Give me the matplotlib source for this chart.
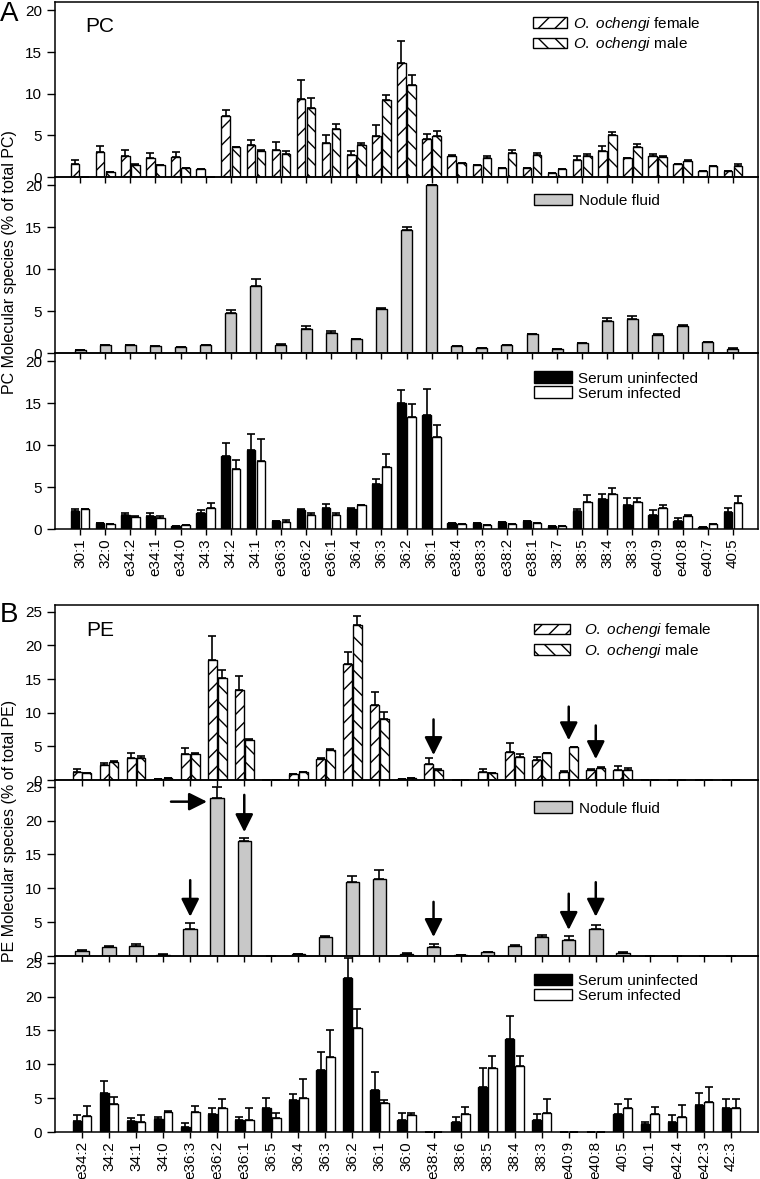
import numpy as np
import matplotlib
matplotlib.use("Agg")
import matplotlib.pyplot as plt

plt.rcParams['font.family'] = ['Liberation Sans', 'DejaVu Sans']
plt.rcParams['mathtext.fontset'] = 'custom'
plt.rcParams['mathtext.it'] = 'Liberation Sans:italic'
plt.rcParams['mathtext.rm'] = 'Liberation Sans'
plt.rcParams['hatch.linewidth'] = 1.0

# ---------------- Panel A (PC) ----------------
cats_A = ['30:1', '32:0', 'e34:2', 'e34:1', 'e34:0', '34:3', '34:2', '34:1', 'e36:3',
          'e36:2', 'e36:1', '36:4', '36:3', '36:2', '36:1', 'e38:4', 'e38:3', 'e38:2',
          'e38:1', '38:7', '38:5', '38:4', '38:3', 'e40:9', 'e40:8', 'e40:7', '40:5']

pc_female = [1.6, 3.0, 2.5, 2.3, 2.4, 1.0, 7.3, 3.9, 3.3, 9.4, 4.1, 2.7, 4.9, 13.65, 4.6,
             2.5, 1.4, 1.1, 1.1, 0.5, 2.0, 3.15, 2.3, 2.5, 1.6, 0.7, 0.75]
pc_female_err = [0.5, 0.7, 0.8, 0.6, 0.6, 0.0, 0.7, 0.6, 0.9, 2.2, 0.9, 0.4, 1.3, 2.65, 0.6,
                 0.1, 0.0, 0.0, 0.0, 0.0, 0.5, 0.55, 0.0, 0.3, 0.0, 0.0, 0.0]
pc_male = [0.0, 0.56, 1.5, 1.4, 1.1, 0.0, 3.6, 3.1, 2.8, 8.3, 5.8, 3.9, 9.3, 11.0, 4.95,
           1.7, 2.3, 2.9, 2.7, 1.0, 2.5, 5.1, 3.6, 2.4, 1.9, 1.3, 1.35]
pc_male_err = [0.0, 0.0, 0.1, 0.1, 0.0, 0.0, 0.05, 0.2, 0.3, 1.2, 0.6, 0.2, 0.6, 1.2, 0.55,
               0.0, 0.2, 0.4, 0.2, 0.0, 0.3, 0.3, 0.4, 0.1, 0.1, 0.0, 0.25]

pc_nodule = [0.4, 0.9, 0.9, 0.8, 0.7, 0.9, 4.8, 8.0, 1.0, 2.9, 2.4, 1.7, 5.2, 14.7, 20.0,
             0.8, 0.6, 1.0, 2.3, 0.5, 1.2, 3.8, 4.1, 2.1, 3.2, 1.3, 0.5]
pc_nodule_err = [0.0, 0.05, 0.05, 0.0, 0.0, 0.05, 0.3, 0.8, 0.1, 0.3, 0.2, 0.0, 0.2, 0.3, 0.1,
                 0.0, 0.0, 0.0, 0.0, 0.0, 0.0, 0.4, 0.3, 0.2, 0.2, 0.0, 0.1]

pc_uninf = [2.15, 0.7, 1.7, 1.55, 0.35, 1.9, 8.7, 9.4, 0.95, 2.25, 2.5, 2.35, 5.4, 15.0, 13.6,
            0.72, 0.7, 0.8, 0.95, 0.3, 2.1, 3.6, 2.85, 1.65, 0.9, 0.25, 2.05]
pc_uninf_err = [0.25, 0.0, 0.15, 0.35, 0.0, 0.4, 1.6, 1.9, 0.0, 0.1, 0.45, 0.2, 0.6, 1.6, 3.1,
                0.0, 0.0, 0.0, 0.0, 0.0, 0.3, 0.55, 0.85, 0.6, 0.4, 0.0, 0.5]
pc_inf = [2.35, 0.55, 1.45, 1.35, 0.5, 2.55, 7.1, 8.1, 0.85, 1.65, 1.7, 2.85, 7.4, 13.4, 11.0,
          0.56, 0.45, 0.6, 0.72, 0.3, 3.2, 4.2, 3.2, 2.45, 1.55, 0.65, 3.05]
pc_inf_err = [0.05, 0.0, 0.05, 0.15, 0.0, 0.55, 1.1, 2.6, 0.2, 0.25, 0.25, 0.0, 1.55, 1.5, 1.4,
              0.0, 0.0, 0.0, 0.0, 0.0, 0.8, 0.75, 0.5, 0.4, 0.15, 0.0, 0.9]

# ---------------- Panel B (PE) ----------------
cats_B = ['e34:2', '34:2', '34:1', '34:0', 'e36:3', 'e36:2', 'e36:1', '36:5', '36:4', '36:3',
          '36:2', '36:1', '36:0', 'e38:4', '38:6', '38:5', '38:4', '38:3', 'e40:9', 'e40:8',
          '40:5', '40:1', 'e42:4', 'e42:3', '42:3']

pe_female = [1.2, 2.2, 3.2, 0.15, 3.85, 17.9, 13.3, 0.0, 0.9, 3.05, 17.2, 11.1, 0.1, 2.45, 0.0,
             1.25, 4.2, 2.95, 1.25, 1.5, 1.5, 0.0, 0.0, 0.0, 0.0]
pe_female_err = [0.5, 0.35, 0.8, 0.0, 0.95, 3.5, 2.1, 0.0, 0.0, 0.25, 1.8, 2.0, 0.0, 0.75, 0.0,
                 0.45, 1.3, 0.5, 0.15, 0.2, 0.55, 0.0, 0.0, 0.0, 0.0]
pe_male = [1.0, 2.7, 3.2, 0.25, 3.85, 15.2, 5.9, 0.0, 1.2, 4.45, 23.0, 9.0, 0.25, 1.5, 0.0,
           1.0, 3.45, 3.95, 4.9, 1.85, 1.5, 0.0, 0.0, 0.0, 0.0]
pe_male_err = [0.05, 0.1, 0.4, 0.0, 0.1, 1.2, 0.15, 0.0, 0.0, 0.15, 1.3, 1.1, 0.0, 0.1, 0.0,
               0.0, 0.35, 0.05, 0.05, 0.05, 0.3, 0.0, 0.0, 0.0, 0.0]

pe_nodule = [0.75, 1.4, 1.55, 0.2, 3.95, 23.4, 16.95, 0.0, 0.3, 2.85, 11.0, 11.35, 0.3, 1.4,
             0.15, 0.65, 1.55, 2.8, 2.35, 4.05, 0.5, 0.0, 0.0, 0.0, 0.0]
pe_nodule_err = [0.15, 0.05, 0.15, 0.05, 0.9, 1.6, 0.45, 0.0, 0.05, 0.1, 0.75, 1.3, 0.15, 0.4,
                 0.0, 0.0, 0.05, 0.3, 0.6, 0.6, 0.05, 0.0, 0.0, 0.0, 0.0]

pe_uninf = [1.6, 5.7, 1.6, 1.85, 0.7, 2.6, 1.7, 3.6, 4.7, 9.2, 22.75, 6.2, 1.75, 0.0, 1.45,
            6.7, 13.8, 1.7, 0.0, 0.0, 2.7, 1.2, 1.5, 3.95, 3.5]
pe_uninf_err = [0.9, 1.8, 0.4, 0.4, 0.65, 0.9, 0.5, 1.35, 0.9, 2.6, 2.95, 2.7, 1.1, 0.0, 0.75,
                2.75, 3.3, 1.0, 0.0, 0.0, 1.4, 0.3, 1.0, 1.75, 1.35]
pe_inf = [2.35, 4.2, 1.5, 2.95, 3.0, 3.5, 1.7, 2.1, 5.0, 11.05, 15.4, 4.3, 2.45, 0.0, 2.7,
          9.4, 9.8, 2.85, 0.0, 0.0, 3.6, 2.6, 2.25, 4.5, 3.5]
pe_inf_err = [1.5, 1.0, 1.0, 0.15, 0.85, 1.35, 1.8, 0.65, 2.8, 4.05, 2.7, 0.5, 0.4, 0.0, 1.05,
              1.9, 1.4, 2.0, 0.0, 0.0, 1.25, 1.1, 1.75, 2.2, 1.35]

# arrows: (category, tail value, tip value)
arrows_B_top = [('e38:4', 9.0, 3.7), ('e40:9', 10.9, 5.9), ('e40:8', 8.1, 3.1)]
arrows_B_mid = [('e36:3', 11.2, 5.8), ('e36:1', 23.8, 18.3), ('e38:4', 8.0, 2.8),
                ('e40:9', 9.2, 3.85), ('e40:8', 10.9, 5.8)]
# horizontal arrow pointing at e36:2 (tail offset, tip offset in category units, height)
arrow_B_horiz = ('e36:2', -1.71, -0.38, 22.8)

# ---------------- Figure ----------------
W, H = 760, 1179
fig = plt.figure(figsize=(W / 100, H / 100), dpi=100)
fig.patch.set_facecolor('white')

FS = 11
LEFT, RIGHT = 55, 758


def add_ax(top_px, bot_px):
    ax = fig.add_axes([LEFT / W, 1 - bot_px / H, (RIGHT - LEFT) / W, (bot_px - top_px) / H])
    ax.set_facecolor('none')
    for s in ax.spines.values():
        s.set_linewidth(1.1)
    ax.tick_params(axis='both', direction='out', width=1.0, labelsize=FS)
    ax.tick_params(axis='y', length=5.5, pad=4)
    ax.tick_params(axis='x', length=4.5, pad=2)
    return ax


def style_x(ax, cats, labels):
    ax.set_xticks(np.arange(len(cats)))
    if labels:
        ax.set_xticklabels(cats, rotation=90, fontsize=FS)
    else:
        ax.set_xticklabels([])
    ax.set_xlim(-1, len(cats))


err_kw = dict(elinewidth=1.2, capthick=1.2, ecolor='black')


def pair(ax, cats, v1, e1, v2, e2, kw1, kw2, off, width, labels):
    x = np.arange(len(cats))
    b1 = ax.bar(x - off, v1, width, yerr=[np.zeros(len(v1)), e1], capsize=2.9,
                error_kw=err_kw, edgecolor='black', linewidth=1.0, **kw1)
    b2 = ax.bar(x + off, v2, width, yerr=[np.zeros(len(v2)), e2], capsize=2.9,
                error_kw=err_kw, edgecolor='black', linewidth=1.0, **kw2)
    return b1, b2


def single(ax, cats, v, e, width, color):
    x = np.arange(len(cats))
    return ax.bar(x, v, width, yerr=[np.zeros(len(v)), e], capsize=3.3,
                  error_kw=err_kw, color=color, edgecolor='black', linewidth=1.0)


def legend(ax, handles, labels, anchor, hl, hh, htp, ls):
    ax.legend(handles, labels, loc='upper left', bbox_to_anchor=anchor, frameon=False,
              borderpad=0, borderaxespad=0, handlelength=hl, handleheight=hh,
              handletextpad=htp, labelspacing=ls, fontsize=FS)


lab_f = r'$\mathit{O.\ ochengi}$ female'
lab_m = r'$\mathit{O.\ ochengi}$ male'
hatch_f = dict(color='white', hatch='//')
hatch_m = dict(color='white', hatch='\\\\')

# ---- Panel A ----
axA1 = add_ax(2, 177)
axA2 = add_ax(177, 353)
axA3 = add_ax(353, 529)
for ax in (axA1, axA2, axA3):
    ax.set_ylim(0, 21)
    ax.set_yticks([0, 5, 10, 15, 20])
style_x(axA1, cats_A, False)
style_x(axA2, cats_A, False)
style_x(axA3, cats_A, True)

bf, bm = pair(axA1, cats_A, pc_female, pc_female_err, pc_male, pc_male_err,
              hatch_f, hatch_m, 0.2, 0.34, False)
legend(axA1, [bf, bm], [lab_f, lab_m], (0.680, 0.925), 2.2, 0.7, 0.4, 0.15)

bn = single(axA2, cats_A, pc_nodule, pc_nodule_err, 0.44, '#c8c8c8')
legend(axA2, [bn], ['Nodule fluid'], (0.681, 0.906), 2.5, 0.8, 0.45, 0.1)

bu, bi = pair(axA3, cats_A, pc_uninf, pc_uninf_err, pc_inf, pc_inf_err,
              dict(color='black'), dict(color='white'), 0.2, 0.34, False)
legend(axA3, [bu, bi], ['Serum uninfected', 'Serum infected'], (0.681, 0.895), 2.5, 0.8, 0.4, 0.05)

# ---- Panel B ----
axB1 = add_ax(605, 780)
axB2 = add_ax(780, 956)
axB3 = add_ax(956, 1132)
for ax in (axB1, axB2, axB3):
    ax.set_ylim(0, 26)
    ax.set_yticks([0, 5, 10, 15, 20, 25])
style_x(axB1, cats_B, False)
style_x(axB2, cats_B, False)
style_x(axB3, cats_B, True)

bf, bm = pair(axB1, cats_B, pe_female, pe_female_err, pe_male, pe_male_err,
              hatch_f, hatch_m, 0.18, 0.33, False)
legend(axB1, [bf, bm], [lab_f, lab_m], (0.681, 0.906), 2.4, 0.7, 0.9, 0.15)

bn = single(axB2, cats_B, pe_nodule, pe_nodule_err, 0.5, '#c8c8c8')
legend(axB2, [bn], ['Nodule fluid'], (0.681, 0.878), 2.5, 0.8, 0.45, 0.1)

bu, bi = pair(axB3, cats_B, pe_uninf, pe_uninf_err, pe_inf, pe_inf_err,
              dict(color='black'), dict(color='white'), 0.18, 0.33, False)
legend(axB3, [bu, bi], ['Serum uninfected', 'Serum infected'], (0.681, 0.90), 2.5, 0.8, 0.4, 0.05)

# arrows
aprops = dict(arrowstyle='-|>,head_length=1.08,head_width=0.54', mutation_scale=10,
              lw=1.8, color='black', shrinkA=0, shrinkB=0)
for ax, arrs in ((axB1, arrows_B_top), (axB2, arrows_B_mid)):
    for cat, tail, tip in arrs:
        xi = cats_B.index(cat)
        ax.annotate('', xy=(xi, tip), xytext=(xi, tail), arrowprops=aprops)
cat, t0, t1, hy = arrow_B_horiz
xi = cats_B.index(cat)
axB2.annotate('', xy=(xi + t1, hy), xytext=(xi + t0, hy), arrowprops=aprops)

# texts
fig.text(9 / W, 1 - 14 / H, 'A', fontsize=20, ha='center', va='center')
fig.text(9 / W, 1 - 615 / H, 'B', fontsize=20, ha='center', va='center')
fig.text(100 / W, 1 - 26 / H, 'PC', fontsize=15, ha='center', va='center')
fig.text(100 / W, 1 - 630 / H, 'PE', fontsize=15, ha='center', va='center')
fig.text(10 / W, 1 - 262 / H, 'PC Molecular species (% of total PC)', fontsize=11.5,
         rotation=90, ha='center', va='center')
fig.text(10 / W, 1 - 831 / H, 'PE Molecular species (% of total PE)', fontsize=11.5,
         rotation=90, ha='center', va='center')

fig.savefig('out.png', dpi=100, facecolor='white')
